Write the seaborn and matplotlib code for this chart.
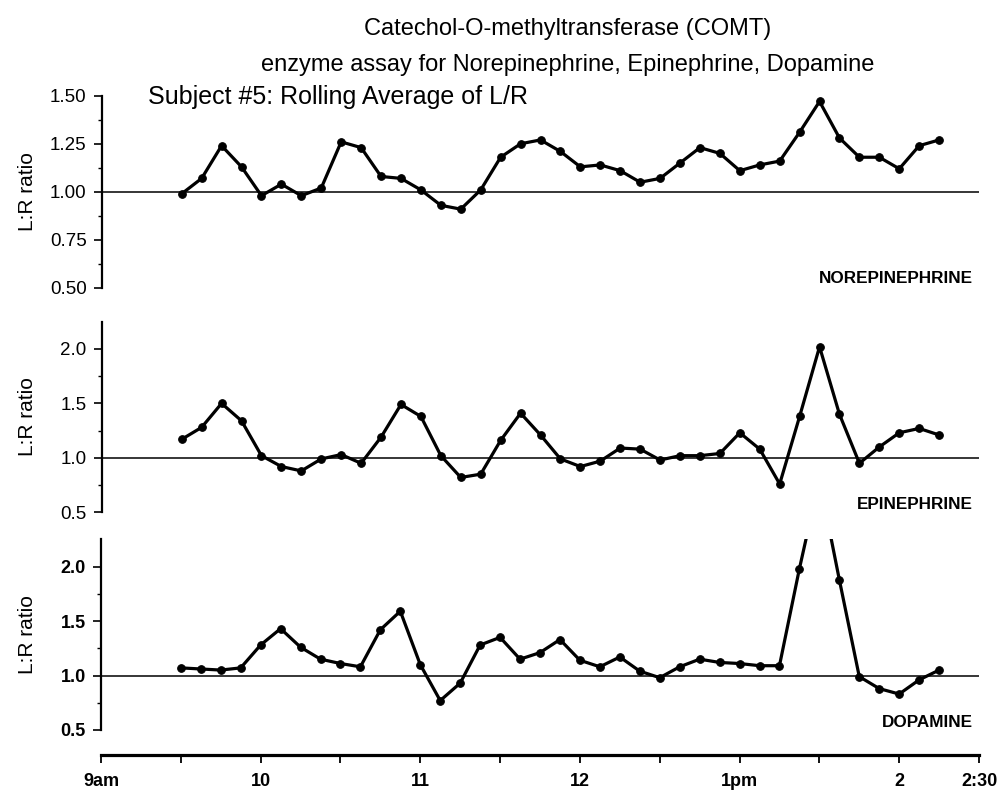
import numpy as np
import pandas as pd
import matplotlib
matplotlib.use("Agg")
import matplotlib.pyplot as plt
import seaborn as sns

# ---- data -------------------------------------------------------------
# sample times in decimal hours (9:30 to 2:15 pm, every 7.5 minutes)
times = [9.5, 9.625, 9.75, 9.875, 10.0, 10.125, 10.25, 10.375, 10.5, 10.625,
         10.75, 10.875, 11.0, 11.125, 11.25, 11.375, 11.5, 11.625, 11.75, 11.875,
         12.0, 12.125, 12.25, 12.375, 12.5, 12.625, 12.75, 12.875, 13.0, 13.125,
         13.25, 13.375, 13.5, 13.625, 13.75, 13.875, 14.0, 14.125, 14.25]

norepinephrine = [0.99, 1.07, 1.24, 1.13, 0.98, 1.04, 0.98, 1.02, 1.26, 1.23,
                  1.08, 1.07, 1.01, 0.93, 0.91, 1.01, 1.18, 1.25, 1.27, 1.21,
                  1.13, 1.14, 1.11, 1.05, 1.07, 1.15, 1.23, 1.20, 1.11, 1.14,
                  1.16, 1.31, 1.47, 1.28, 1.18, 1.18, 1.12, 1.24, 1.27]

epinephrine = [1.17, 1.28, 1.50, 1.34, 1.02, 0.92, 0.88, 0.99, 1.03, 0.95,
               1.19, 1.49, 1.38, 1.02, 0.82, 0.85, 1.16, 1.41, 1.21, 0.99,
               0.92, 0.97, 1.09, 1.08, 0.98, 1.02, 1.02, 1.04, 1.23, 1.08,
               0.76, 1.38, 2.02, 1.40, 0.95, 1.10, 1.23, 1.27, 1.21]

dopamine = [1.07, 1.06, 1.05, 1.07, 1.28, 1.43, 1.26, 1.15, 1.11, 1.08,
            1.42, 1.59, 1.10, 0.77, 0.93, 1.28, 1.35, 1.15, 1.21, 1.33,
            1.14, 1.08, 1.17, 1.04, 0.98, 1.08, 1.15, 1.12, 1.11, 1.09,
            1.09, 1.98, 2.80, 1.88, 0.99, 0.88, 0.83, 0.96, 1.05]

panel_names = ["NOREPINEPHRINE", "EPINEPHRINE", "DOPAMINE"]
x_ticks = [9, 10, 11, 12, 13, 14, 14.5]
x_ticklabels = ["9am", "10", "11", "12", "1pm", "2", "2:30"]
x_minor = [9.5, 10.5, 11.5, 12.5, 13.5]
top_yticks = [0.5, 0.75, 1.0, 1.25, 1.5]
top_yticklabels = ["0.50", "0.75", "1.00", "1.25", "1.50"]
low_yticks = [0.5, 1.0, 1.5, 2.0]
low_yticklabels = ["0.5", "1.0", "1.5", "2.0"]

title1 = "Catechol-O-methyltransferase (COMT)"
title2 = "enzyme assay for Norepinephrine, Epinephrine, Dopamine"
subtitle = "Subject #5: Rolling Average of L/R"

# ---- style ------------------------------------------------------------
sns.set_style("ticks")
plt.rcParams["font.family"] = ["Liberation Sans", "DejaVu Sans"]
for key in ["text.color", "axes.labelcolor", "xtick.color", "ytick.color",
            "axes.edgecolor"]:
    plt.rcParams[key] = "black"

W, H = 1003, 793
fig = plt.figure(figsize=(W / 100, H / 100), dpi=100)

def px_axes(left, top, right, bottom):
    return fig.add_axes([left / W, 1 - bottom / H, (right - left) / W, (bottom - top) / H])

ax_top = px_axes(102, 95.7, 979, 288)
ax_mid = px_axes(102, 321.7, 979, 512.3)
ax_bot = px_axes(101, 539.3, 979, 730)
axes = [ax_top, ax_mid, ax_bot]
series = [norepinephrine, epinephrine, dopamine]

for ax, vals in zip(axes, series):
    df = pd.DataFrame({"time": times, "ratio": vals})
    ax.axhline(1.0, color="black", lw=1.1, zorder=1)
    sns.lineplot(data=df, x="time", y="ratio", ax=ax, color="black",
                 linewidth=2.3, marker="o", markersize=5.5,
                 markeredgecolor="black", markerfacecolor="black", zorder=3)
    ax.set_xlim(9, 14.5)
    ax.set_xlabel("")
    ax.set_ylabel("")
    for s in ["top", "right"]:
        ax.spines[s].set_visible(False)
    ax.spines["left"].set_linewidth(1.6)
    ax.tick_params(axis="y", which="major", length=6, width=1.2, pad=5, labelsize=13.5)
    ax.tick_params(axis="y", which="minor", length=3, width=1.0)

ax_top.set_ylim(0.5, 1.5)
ax_top.set_yticks(top_yticks)
ax_top.set_yticklabels(top_yticklabels)
ax_top.set_yticks([0.625, 0.875, 1.125, 1.375], minor=True)

for ax in (ax_mid, ax_bot):
    ax.set_ylim(0.5, 2.25)
    ax.set_yticks(low_yticks)
    ax.set_yticklabels(low_yticklabels)
    ax.set_yticks([0.75, 1.25, 1.75], minor=True)

for ax in (ax_top, ax_mid):
    ax.spines["bottom"].set_visible(False)
    ax.tick_params(axis="x", which="both", bottom=False, labelbottom=False)

for lab in ax_bot.get_yticklabels():
    lab.set_fontweight("bold")
    lab.set_fontsize(13)

ax_bot.spines["bottom"].set_position(("outward", 18))
ax_bot.spines["bottom"].set_linewidth(2.3)
ax_bot.set_xticks(x_ticks)
ax_bot.set_xticklabels(x_ticklabels, fontweight="bold", fontsize=13)
ax_bot.set_xticks(x_minor, minor=True)
ax_bot.tick_params(axis="x", which="both", length=6, width=1.3, pad=7)

# y-axis labels
for ax in axes:
    pos = ax.get_position()
    fig.text(28 / W, pos.y0 + pos.height / 2, "L:R ratio", rotation=90,
             ha="center", va="center", fontsize=15)

# panel names
for name, base in zip(panel_names, [283, 509, 727]):
    fig.text(973 / W, 1 - base / H, name, ha="right", va="baseline",
             fontsize=12.3, fontweight="bold")

fig.text(148 / W, 1 - 104 / H, subtitle, ha="left", va="baseline", fontsize=18)
fig.text(568 / W, 1 - 35 / H, title1, ha="center", va="baseline", fontsize=17)
fig.text(568 / W, 1 - 71 / H, title2, ha="center", va="baseline", fontsize=17)

fig.savefig("out.png", dpi=100)
